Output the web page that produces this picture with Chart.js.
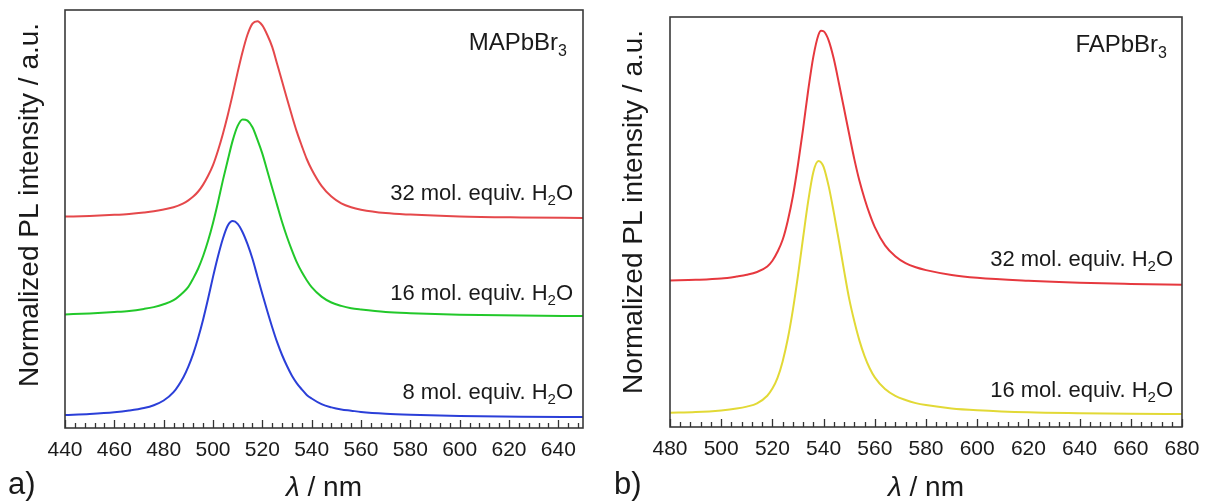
<!DOCTYPE html>
<html><head><meta charset="utf-8">
<script src="https://cdn.jsdelivr.net/npm/chart.js@4.4.0/dist/chart.umd.min.js"></script>
<style>
html,body{margin:0;padding:0;background:#fff;width:1206px;height:501px;overflow:hidden}
#ca{position:absolute;left:0;top:0}
#cb{position:absolute;left:600px;top:0}
</style></head><body>
<canvas id="ca" width="600" height="501"></canvas>
<canvas id="cb" width="606" height="501"></canvas>
<script>
// ---------- Panel a) MAPbBr3 ----------
const wlMA = [440,450,460,466,472,476,480,484,488,490,492,494,496,498,500,502,504,506,508,510,512,514,516,518,520,522,524,526,528,530,532,534,536,538,540,544,548,552,556,560,570,580,600,625,650];
const ma8 = [0.130,0.141,0.158,0.175,0.200,0.228,0.275,0.358,0.508,0.614,0.744,0.902,1.085,1.292,1.511,1.715,1.893,2.025,2.070,2.042,1.958,1.838,1.692,1.516,1.339,1.170,1.008,0.858,0.730,0.620,0.523,0.447,0.386,0.331,0.295,0.238,0.206,0.185,0.173,0.161,0.143,0.133,0.121,0.113,0.109];
const ma16 = [1.136,1.146,1.160,1.171,1.191,1.209,1.237,1.278,1.358,1.411,1.496,1.595,1.720,1.872,2.051,2.256,2.476,2.680,2.876,3.021,3.086,3.074,3.007,2.884,2.744,2.573,2.399,2.229,2.060,1.910,1.777,1.656,1.559,1.478,1.409,1.314,1.255,1.221,1.198,1.185,1.160,1.148,1.133,1.124,1.120];
const ma32 = [2.114,2.121,2.132,2.141,2.155,2.167,2.185,2.207,2.246,2.276,2.314,2.365,2.434,2.522,2.629,2.773,2.941,3.131,3.339,3.559,3.763,3.935,4.044,4.068,4.026,3.931,3.811,3.640,3.468,3.292,3.122,2.961,2.821,2.690,2.585,2.421,2.314,2.246,2.207,2.183,2.149,2.134,2.116,2.106,2.100];
const ticksMA = [440,460,480,500,520,540,560,580,600,620,640];
const labelsMA = ['32 mol. equiv. H', '16 mol. equiv. H', '8 mol. equiv. H'];
const labelLevelsMA = [2.28, 1.28, 0.29];

// ---------- Panel b) FAPbBr3 ----------
const wlFA = [480,490,500,506,510,514,518,520,522,524,526,528,530,532,534,536,538,539,540,542,544,546,548,550,552,554,556,558,560,564,568,572,576,580,590,600,620,640,660,680];
const fa32 = [1.466,1.472,1.485,1.505,1.522,1.550,1.605,1.662,1.752,1.872,2.061,2.307,2.625,2.984,3.370,3.704,3.923,3.963,3.957,3.864,3.679,3.435,3.182,2.927,2.679,2.462,2.283,2.128,1.999,1.817,1.708,1.639,1.597,1.569,1.521,1.493,1.463,1.443,1.431,1.422];
const fa16 = [0.142,0.149,0.166,0.184,0.204,0.237,0.313,0.384,0.491,0.656,0.882,1.172,1.517,1.895,2.261,2.551,2.660,2.647,2.602,2.406,2.144,1.860,1.563,1.281,1.057,0.864,0.709,0.587,0.496,0.379,0.311,0.270,0.239,0.219,0.186,0.168,0.147,0.138,0.132,0.129];
const ticksFA = [480,500,520,540,560,580,600,620,640,660,680];
const labelsFA = ['32 mol. equiv. H', '16 mol. equiv. H'];
const labelLevelsFA = [1.61, 0.30];

const FONT = "'Liberation Sans', Arial, sans-serif";

function pts(xs, ys){ return xs.map((x,i)=>({x:x, y:ys[i]})); }

function drawParts(ctx, parts, xRight, yBase){
  let w = 0;
  parts.forEach(p=>{ ctx.font = p[1]+'px '+FONT; w += ctx.measureText(p[0]).width; });
  let x = xRight - w;
  ctx.textAlign='left'; ctx.textBaseline='alphabetic';
  parts.forEach(p=>{ ctx.font = p[1]+'px '+FONT; ctx.fillText(p[0], x, yBase + p[2]); x += ctx.measureText(p[0]).width; });
}

const deco = {
  id:'deco',
  afterDraw(chart, args, o){
    const ctx = chart.ctx, ca = chart.chartArea, xs = chart.scales.x, ys = chart.scales.y;
    ctx.save();
    // frame
    ctx.strokeStyle = '#3a3a3a'; ctx.lineWidth = 1.6;
    ctx.strokeRect(ca.left, ca.top, ca.right-ca.left, ca.bottom-ca.top);
    // ticks (inside, bottom)
    ctx.strokeStyle = '#333'; ctx.lineWidth = 1.3;
    const n = Math.floor((o.xmax - o.xmin)/o.minor + 1e-9);
    for (let i=0;i<=n;i++){
      const v = o.xmin + i*o.minor;
      const px = Math.round(xs.getPixelForValue(v))+0.5;
      const major = ((v - o.xmin) % o.major) === 0;
      const len = major ? 8 : 5;
      ctx.beginPath(); ctx.moveTo(px, ca.bottom); ctx.lineTo(px, ca.bottom-len); ctx.stroke();
    }
    ctx.fillStyle = '#1a1a1a';
    // curve labels
    o.labels.forEach((t,i)=>{
      const y = ys.getPixelForValue(o.levels[i]);
      drawParts(ctx, [[t,22,0],['2',15,5],['O',22,0]], ca.right - o.labelDx, y);
    });
    // compound title
    drawParts(ctx, [[o.title,24,0],['3',16,6]], ca.right - o.titleDx, ys.getPixelForValue(o.titleLevel));
    // x title
    const cx = (ca.left+ca.right)/2;
    ctx.font = 'italic 28px '+FONT; const w1 = ctx.measureText('\u03bb').width;
    ctx.font = '28px '+FONT; const w2 = ctx.measureText(' / nm').width;
    let x0 = cx - (w1+w2)/2;
    ctx.textAlign='left'; ctx.textBaseline='alphabetic';
    ctx.font = 'italic 28px '+FONT; ctx.fillText('\u03bb', x0, 496);
    ctx.font = '28px '+FONT; ctx.fillText(' / nm', x0+w1, 496);
    // panel letter
    ctx.font = '31px '+FONT; ctx.fillText(o.letter, o.letterX, 494);
    // y title
    ctx.save();
    ctx.translate(o.yTitleX, o.yTitleY); ctx.rotate(-Math.PI/2);
    ctx.font = '28px '+FONT; ctx.textAlign='center'; ctx.textBaseline='alphabetic';
    ctx.fillText('Normalized PL intensity / a.u.', 0, 0);
    ctx.restore();
    ctx.restore();
  }
};

function makeChart(id, wl, series, cfg){
  return new Chart(document.getElementById(id), {
    type:'line',
    data:{ datasets: series.map(s=>({ data: pts(wl, s.y), borderColor: s.c, borderWidth: 2, pointRadius: 0, fill:false, cubicInterpolationMode:'monotone' })) },
    options:{
      responsive:false, animation:false, devicePixelRatio:1,
      layout:{ padding:{ left: cfg.padL, right: cfg.padR, top: cfg.padT, bottom: 0 } },
      plugins:{ legend:{display:false}, tooltip:{enabled:false}, deco: cfg.deco },
      scales:{
        x:{ type:'linear', min: cfg.xmin, max: cfg.xmax,
            afterFit(s){ s.height = cfg.xh; },
            afterBuildTicks(s){ s.ticks = cfg.ticks.map(v=>({value:v})); },
            grid:{ display:false }, border:{ display:false },
            ticks:{ font:{ family: FONT, size: 21 }, color:'#1a1a1a', padding: 2, maxRotation:0, autoSkip:false } },
        y:{ display:false, min:0, max: cfg.ymax }
      }
    },
    plugins:[deco]
  });
}

makeChart('ca', wlMA, [{y:ma32,c:'#e5484b'},{y:ma16,c:'#22c82a'},{y:ma8,c:'#2b3fd8'}], {
  padL:65, padR:17, padT:10, xh:73, xmin:440, xmax:650, ymax:4.18, ticks: ticksMA,
  deco:{ xmin:440, xmax:650, major:20, minor:4, labels: labelsMA, levels: labelLevelsMA, labelDx:10,
         title:'MAPbBr', titleDx:16, titleLevel:3.78, letter:'a)', letterX:8, yTitleX:38, yTitleY:205 }
});
makeChart('cb', wlFA, [{y:fa32,c:'#e6383e'},{y:fa16,c:'#e2d936'}], {
  padL:70, padR:24, padT:17, xh:74, xmin:480, xmax:680, ymax:4.10, ticks: ticksFA,
  deco:{ xmin:480, xmax:680, major:20, minor:4, labels: labelsFA, levels: labelLevelsFA, labelDx:9,
         title:'FAPbBr', titleDx:15, titleLevel:3.75, letter:'b)', letterX:14, yTitleX:42, yTitleY:212 }
});
</script>
</body></html>
